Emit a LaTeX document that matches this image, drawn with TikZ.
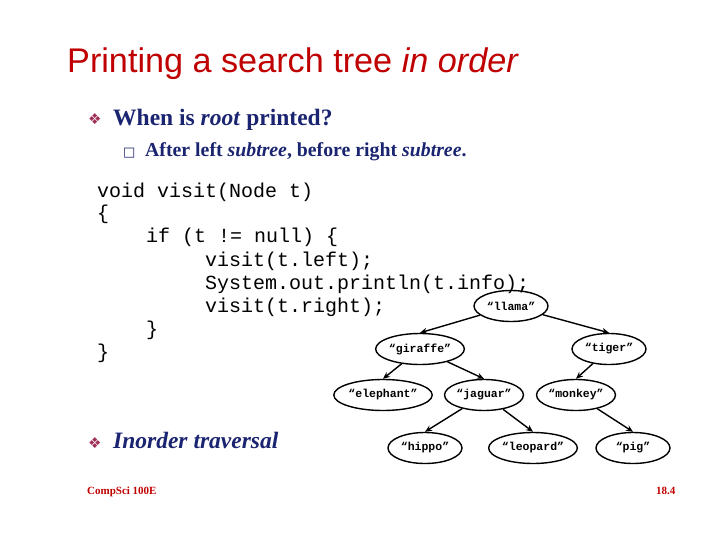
\documentclass[tikz,border=0pt]{standalone}
\usepackage{fontspec}
\setmainfont{Liberation Serif}
\setsansfont{Liberation Sans}
\setmonofont{Liberation Mono}
\newfontfamily\djv{DejaVu Sans}
\usetikzlibrary{shapes.geometric,arrows.meta}
\definecolor{tred}{HTML}{C00000}
\definecolor{navy}{HTML}{1A2470}
\definecolor{bulc}{HTML}{A0305A}
\begin{document}
\begin{tikzpicture}[x=1pt,y=-1pt,
  txt/.style={anchor=base west,inner sep=0pt},
  tn/.style={ellipse,draw,line width=1.4pt,minimum width=74pt,minimum height=31pt,inner sep=0.3pt,font=\fontsize{11.5}{13}\ttfamily\bfseries},
  ed/.style={line width=1.4pt,-{Stealth[length=7pt,width=6pt]}}]
\useasboundingbox (0,0) rectangle (720,540);
\node[txt,text=tred,font=\sffamily\fontsize{34.2}{38}\selectfont] (title) at (67,73) {Printing a search tree \textit{in order}};
\node[txt,text=bulc,font=\djv\fontsize{15}{17}\selectfont] (b1) at (88,125) {❖};
\node[txt,text=navy,font=\fontsize{23.5}{26}\selectfont\bfseries] (t1) at (113,126) {When is \textit{root} printed?};
\node[txt,text=navy,font=\djv\fontsize{13}{15}\selectfont] (b2) at (123,157) {□};
\node[txt,text=navy,font=\fontsize{19.8}{22}\selectfont\bfseries] (t2) at (145,157) {After left \textit{subtree}, before right \textit{subtree}.};
\begin{scope}[every node/.style={txt,font=\fontsize{20}{22}\ttfamily}]
\node (c1) at (97,197) {void visit(Node t)};
\node (c2) at (97,220) {\{};
\node (c3) at (146,243) {if (t != null) \{};
\node (c4) at (205,266) {visit(t.left);};
\node (c5) at (205,289) {System.out.println(t.info);};
\node (c6) at (205,312) {visit(t.right);};
\node (c7) at (146,335) {\}};
\node (c8) at (97,358) {\}};
\end{scope}
\node[txt,text=bulc,font=\djv\fontsize{15}{17}\selectfont] (b3) at (88,448) {❖};
\node[txt,text=navy,font=\fontsize{23.5}{26}\selectfont\bfseries\itshape] (t3) at (113,448) {Inorder traversal};
\node[txt,text=tred,font=\fontsize{11}{13}\selectfont\bfseries] (f1) at (87,494) {CompSci 100E};
\node[txt,text=tred,font=\fontsize{11}{13}\selectfont\bfseries] (f2) at (656,494) {18.4};
\node[tn] (llama) at (511,306) {“llama”};
\node[tn] (giraffe) at (420,349) {“giraffe”};
\node[tn] (tiger) at (609,349) {“tiger”};
\node[tn] (elephant) at (383,395) {“elephant”};
\node[tn] (jaguar) at (484,395) {“jaguar”};
\node[tn] (monkey) at (576,395) {“monkey”};
\node[tn] (hippo) at (425,448) {“hippo”};
\node[tn] (leopard) at (533,448) {“leopard”};
\node[tn] (pig) at (633,448) {“pig”};
\draw[ed] (llama) -- (giraffe.north);
\draw[ed] (llama) -- (tiger.north);
\draw[ed] (giraffe) -- (elephant.north);
\draw[ed] (giraffe) -- (jaguar.north);
\draw[ed] (tiger) -- (monkey.north);
\draw[ed] (jaguar) -- (hippo.north);
\draw[ed] (jaguar) -- (leopard.north);
\draw[ed] (monkey) -- (pig.north);
\end{tikzpicture}
\end{document}
